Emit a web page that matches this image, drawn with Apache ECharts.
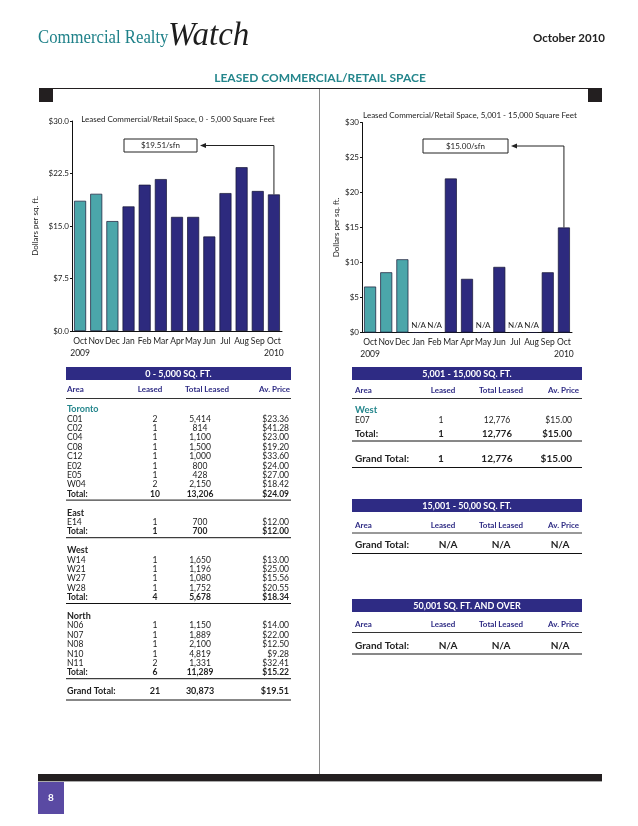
<!DOCTYPE html>
<html><head><meta charset="utf-8">
<script src="https://cdn.jsdelivr.net/npm/echarts@6/dist/echarts.min.js"></script>
<style>html,body{margin:0;padding:0;background:#fff}#c{width:638px;height:826px}</style>
</head><body><div id="c"></div>
<script>
// ---------- data ----------
const months = ['Oct','Nov','Dec','Jan','Feb','Mar','Apr','May','Jun','Jul','Aug','Sep','Oct'];
const years = ['2009','','','','','','','','','','','','2010'];
const priorYearCount = 3; // Oct-Dec 2009 drawn in teal
const smallValues = [18.6, 19.6, 15.7, 17.8, 20.9, 21.7, 16.3, 16.3, 13.5, 19.7, 23.4, 20.0, 19.51];
const mediumValues = [6.56, 8.6, 10.46, null, null, 22.0, 7.66, null, 9.37, null, null, 8.6, 15.0];
const smallTicks = [0, 7.5, 15, 22.5, 30];
const mediumTicks = [0, 5, 10, 15, 20, 25, 30];
const smallTitle = 'Leased Commercial/Retail Space, 0 - 5,000 Square Feet';
const mediumTitle = 'Leased Commercial/Retail Space, 5,001 - 15,000 Square Feet';
const smallCallout = '$19.51/sfn';
const mediumCallout = '$15.00/sfn';

const columns = ['Area', 'Leased', 'Total Leased', 'Av. Price'];
const torontoRows = [['C01','2','5,414','$23.36'],['C02','1','814','$41.28'],['C04','1','1,100','$23.00'],['C08','1','1,500','$19.20'],['C12','1','1,000','$33.60'],['E02','1','800','$24.00'],['E05','1','428','$27.00'],['W04','2','2,150','$18.42']];
const torontoTotal = ['Total:','10','13,206','$24.09'];
const eastRows = [['E14','1','700','$12.00']];
const eastTotal = ['Total:','1','700','$12.00'];
const westRows = [['W14','1','1,650','$13.00'],['W21','1','1,196','$25.00'],['W27','1','1,080','$15.56'],['W28','1','1,752','$20.55']];
const westTotal = ['Total:','4','5,678','$18.34'];
const northRows = [['N06','1','1,150','$14.00'],['N07','1','1,889','$22.00'],['N08','1','2,100','$12.50'],['N10','1','4,819','$9.28'],['N11','2','1,331','$32.41']];
const northTotal = ['Total:','6','11,289','$15.22'];
const smallGrand = ['Grand Total:','21','30,873','$19.51'];
const midRows = [['E07','1','12,776','$15.00']];
const midTotal = ['Total:','1','12,776','$15.00'];
const midGrand = ['Grand Total:','1','12,776','$15.00'];
const largeGrand = ['Grand Total:','N/A','N/A','N/A'];
const xlGrand = ['Grand Total:','N/A','N/A','N/A'];
const sectionTitles = ['0 - 5,000 SQ. FT.', '5,001 - 15,000 SQ. FT.', '15,001 - 50,00 SQ. FT.', '50,001 SQ. FT. AND OVER'];

// ---------- styles ----------
const TEAL_BAR = '#4ba6aa', NAVY_BAR = '#2d2a7e', NAVY = '#2e2b84', TEAL = '#24868c', INK = '#231f20';
const FONT = 'Lato, "Open Sans", sans-serif';

function barData(vals) {
  return vals.map((v, i) => {
    const color = i < priorYearCount ? TEAL_BAR : NAVY_BAR;
    if (v == null) return { value: 0, itemStyle: { color }, label: { show: true, formatter: 'N/A' } };
    return { value: v, itemStyle: { color } };
  });
}
function yAxis(gi, ticks, dec) {
  return {
    type: 'value', gridIndex: gi, min: ticks[0], max: ticks[ticks.length - 1],
    interval: ticks[1] - ticks[0],
    name: 'Dollars per sq. ft.', nameLocation: 'middle', nameRotate: 90,
    nameGap: gi === 0 ? 33 : 22,
    nameTextStyle: { fontFamily: FONT, fontSize: 8, color: '#222' },
    axisLine: { show: true, lineStyle: { color: '#111', width: 1 } },
    axisTick: { show: true, length: 2, lineStyle: { color: '#111' } },
    splitLine: { show: false },
    axisLabel: { fontFamily: FONT, fontSize: 8, color: '#222', margin: 3,
      formatter: v => '$' + (dec ? v.toFixed(1) : v) }
  };
}
function xAxis(gi, fs) {
  return {
    type: 'category', gridIndex: gi, data: months,
    axisLine: { lineStyle: { color: '#111', width: 1 } },
    axisTick: { show: false },
    axisLabel: { interval: 0, fontFamily: FONT, fontSize: fs, color: '#222', margin: 4, lineHeight: 12,
      formatter: (v, i) => years[i] ? v + '\n' + years[i] : v }
  };
}
function series(gi, vals) {
  return {
    type: 'bar', xAxisIndex: gi, yAxisIndex: gi, data: barData(vals), barWidth: 12,
    itemStyle: { borderColor: '#161633', borderWidth: 0.7 },
    label: { show: false, position: 'top', distance: 3, fontFamily: FONT, fontSize: 8, color: '#222' },
    animation: false
  };
}

const chart = echarts.init(document.getElementById('c'), null, { renderer: 'canvas' });
chart.setOption({
  animation: false,
  grid: [
    { left: 72, top: 121, width: 210, height: 210 },
    { left: 362, top: 122.5, width: 210, height: 210 }
  ],
  xAxis: [xAxis(0, 8.5), xAxis(1, 8.5)],
  yAxis: [yAxis(0, smallTicks, true), yAxis(1, mediumTicks, false)],
  series: [series(0, smallValues), series(1, mediumValues)]
});

// ---------- page graphics ----------
const els = [];
function txt(x, y, text, o) {
  o = o || {};
  els.push({ type: 'text', x, y, scaleX: o.scaleX || 1, silent: true,
    style: { text, fill: o.fill || '#222', align: o.align || 'left', verticalAlign: o.va || 'middle',
      font: o.font || ('8px ' + FONT) } });
}
function rect(x, y, w, h, fill) {
  els.push({ type: 'rect', shape: { x, y, width: w, height: h }, style: { fill }, silent: true });
}
function line(x1, y1, x2, y2, stroke, w) {
  els.push({ type: 'line', shape: { x1, y1, x2, y2 }, style: { stroke, lineWidth: w || 1 }, silent: true });
}

// masthead
txt(38, 38, 'Commercial Realty', { font: '19px "Liberation Serif", serif', fill: '#1f8189', scaleX: 0.88 });
txt(168, 36, 'Watch', { font: 'italic 33px "Liberation Serif", serif', fill: '#1d1d1d' });
txt(605, 38, 'October 2010', { font: 'bold 11.5px ' + FONT, fill: '#222', align: 'right' });
txt(320, 78, 'LEASED COMMERCIAL/RETAIL SPACE', { font: 'bold 12px ' + FONT, fill: TEAL, align: 'center' });
line(40, 88.5, 602, 88.5, INK, 1.2);
rect(39, 88, 14, 14, INK);
rect(588, 88, 14, 14, INK);
line(319.5, 89, 319.5, 775, '#8a8a8a', 1);
rect(38, 774, 564, 7, INK);
line(38, 781.5, 602, 781.5, '#aaa', 1);
rect(38, 782, 26, 32, '#5a4aa3');
txt(51, 798, '8', { font: 'bold 10px ' + FONT, fill: '#fff', align: 'center' });

// chart titles and callouts
txt(178, 119, smallTitle, { font: '8px ' + FONT, fill: '#222', align: 'center' });
txt(470, 115, mediumTitle, { font: '8px ' + FONT, fill: '#222', align: 'center' });

function callout(gi, vals, box, text) {
  const last = vals.length - 1;
  const p = chart.convertToPixel({ xAxisIndex: gi, yAxisIndex: gi }, [last, vals[last]]);
  els.push({ type: 'rect', shape: { x: box.x, y: box.y, width: box.w, height: box.h },
    style: { fill: '#fff', stroke: '#222', lineWidth: 1 }, silent: true });
  txt(box.x + box.w / 2, box.y + box.h / 2, text, { font: '8px ' + FONT, fill: '#222', align: 'center' });
  const cy = box.y + box.h / 2, ax = box.x + box.w + 3;
  els.push({ type: 'polyline', shape: { points: [[p[0], p[1]], [p[0], cy], [ax + 4, cy]] },
    style: { stroke: '#222', lineWidth: 1, fill: null }, silent: true });
  els.push({ type: 'polygon', shape: { points: [[ax, cy], [ax + 6, cy - 2.5], [ax + 6, cy + 2.5]] },
    style: { fill: '#222' }, silent: true });
}
callout(0, smallValues, { x: 124, y: 139, w: 73, h: 13 }, smallCallout);
callout(1, mediumValues, { x: 423, y: 139, w: 85, h: 14 }, mediumCallout);

// ---------- tables ----------
function sectionBar(x, y, w, title) {
  rect(x, y, w, 13, NAVY);
  txt(x + w / 2, y + 7, title, { font: 'bold 9px ' + FONT, fill: '#fff', align: 'center' });
}
function row(cells, y, cols, font, fill) {
  cells.forEach((c, i) => txt(cols[i].x, y, c, { font, fill: fill || '#222', align: cols[i].align }));
}

// left table
const L = { x0: 66, x1: 291 };
sectionBar(L.x0, 367, L.x1 - L.x0, sectionTitles[0]);
const hdrL = [{ x: 67, align: 'left' }, { x: 150, align: 'center' }, { x: 207, align: 'center' }, { x: 290, align: 'right' }];
const colL = [{ x: 67, align: 'left' }, { x: 155, align: 'center' }, { x: 200, align: 'center' }, { x: 289, align: 'right' }];
row(columns, 389.5, hdrL, 'bold 8px ' + FONT, NAVY);
line(L.x0, 398.5, L.x1, 398.5, '#333', 1);

const groups = [
  { name: 'Toronto', teal: true, rows: torontoRows, total: torontoTotal },
  { name: 'East', rows: eastRows, total: eastTotal },
  { name: 'West', rows: westRows, total: westTotal },
  { name: 'North', rows: northRows, total: northTotal }
];
const S = 9.4;
let y = 409.5, lastTotal = 0;
groups.forEach(g => {
  txt(67, y, g.name, { font: 'bold 9px ' + FONT, fill: g.teal ? TEAL : '#222' });
  y += S;
  g.rows.forEach(r => { row(r, y, colL, '8.5px ' + FONT); y += S; });
  row(g.total, y, colL, 'bold 8.5px ' + FONT);
  line(L.x0, y + 6, L.x1, y + 6, '#111', 1);
  lastTotal = y;
  y += 2 * S;
});
const gy = lastTotal + 2 * S;
row(smallGrand, gy, colL, 'bold 9px ' + FONT);
line(L.x0, gy + 8.5, L.x1, gy + 8.5, '#111', 1);

// right tables
const R = { x0: 352, x1: 582 };
const hdrR = [{ x: 355, align: 'left' }, { x: 443, align: 'center' }, { x: 501, align: 'center' }, { x: 579, align: 'right' }];
const colR = [{ x: 355, align: 'left' }, { x: 441, align: 'center' }, { x: 497, align: 'center' }, { x: 572, align: 'right' }];
const colNA = [{ x: 355, align: 'left' }, { x: 448, align: 'center' }, { x: 501, align: 'center' }, { x: 560, align: 'center' }];

sectionBar(R.x0, 367, R.x1 - R.x0, sectionTitles[1]);
row(columns, 390, hdrR, 'bold 8px ' + FONT, NAVY);
line(R.x0, 398.5, R.x1, 398.5, '#333', 1);
txt(355, 409.5, 'West', { font: 'bold 9.5px ' + FONT, fill: TEAL });
row(midRows[0], 420.5, colR, '8.5px ' + FONT);
row(midTotal, 434, colR, 'bold 9.5px ' + FONT);
line(R.x0, 441, R.x1, 441, '#111', 1);
row(midGrand, 459, colR, 'bold 10px ' + FONT);
line(R.x0, 467.5, R.x1, 467.5, '#111', 1);

sectionBar(R.x0, 499, R.x1 - R.x0, sectionTitles[2]);
row(columns, 525, hdrR, 'bold 8px ' + FONT, NAVY);
line(R.x0, 533, R.x1, 533, '#333', 1);
row(largeGrand, 545, colNA, 'bold 10px ' + FONT);
line(R.x0, 553.5, R.x1, 553.5, '#111', 1);

sectionBar(R.x0, 599, R.x1 - R.x0, sectionTitles[3]);
row(columns, 624, hdrR, 'bold 8px ' + FONT, NAVY);
line(R.x0, 632.5, R.x1, 632.5, '#333', 1);
row(xlGrand, 645.5, colNA, 'bold 10px ' + FONT);
line(R.x0, 654, R.x1, 654, '#111', 1);

chart.setOption({ graphic: { elements: els } });
</script></body></html>
